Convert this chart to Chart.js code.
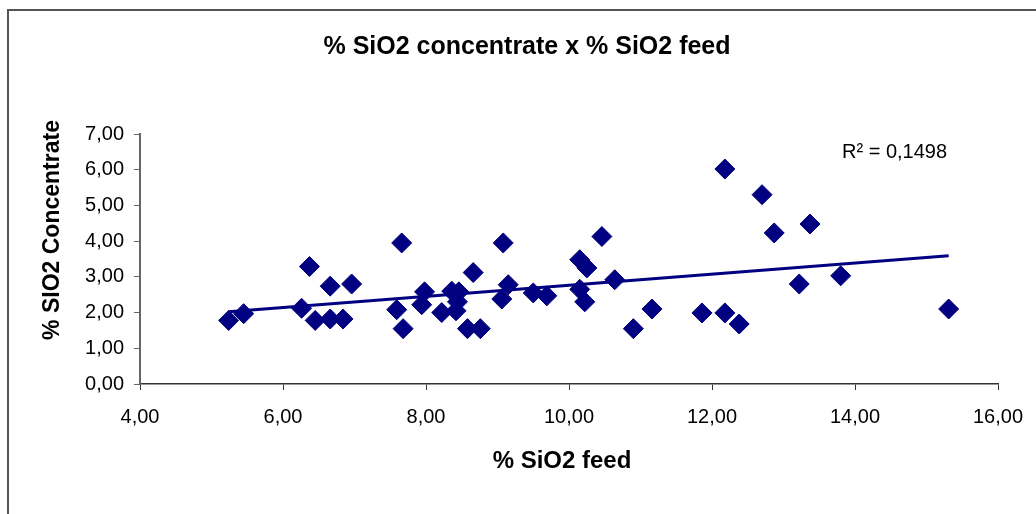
<!DOCTYPE html>
<html lang="en">
<head>
<meta charset="UTF-8">
<title>% SiO2 concentrate x % SiO2 feed</title>
<script src="https://cdn.jsdelivr.net/npm/chart.js"></script>
<style>
  html, body { margin: 0; padding: 0; background: #fff; }
</style>
</head>
<body>
<canvas id="sio2Chart" width="1036" height="514"></canvas>
<script>
// values
const feedSiO2 = [5.24, 5.45, 6.26, 6.37, 6.45, 6.66, 6.66, 6.84, 6.96, 7.59,
                  7.66, 7.68, 7.94, 7.98, 8.22, 8.36, 8.42, 8.46, 8.44, 8.58,
                  8.66, 8.76, 9.06, 9.08, 9.15, 9.50, 9.69, 10.15, 10.15, 10.22,
                  10.25, 10.46, 10.64, 10.90, 11.16, 11.86, 12.18, 12.18, 12.38, 12.70,
                  12.87, 13.22, 13.37, 13.80, 15.31];
const concSiO2 = [1.78, 1.97, 2.12, 3.29, 1.78, 2.74, 1.82, 1.82, 2.80, 2.08,
                  3.95, 1.55, 2.22, 2.58, 2.00, 2.60, 2.05, 2.58, 2.30, 1.55,
                  3.12, 1.55, 2.38, 3.95, 2.78, 2.55, 2.47, 2.65, 3.48, 2.30,
                  3.25, 4.13, 2.92, 1.55, 2.10, 1.99, 6.02, 1.99, 1.68, 5.30,
                  4.23, 2.80, 4.48, 3.03, 2.10];
const xTicks = [4, 6, 8, 10, 12, 14, 16];
const yTicks = [0, 1, 2, 3, 4, 5, 6, 7];
const chartTitle = '% SiO2 concentrate x % SiO2 feed';
const xTitle = '% SiO2 feed';
const yTitle = '% SIO2 Concentrate';
const r2Label = 'R\u00B2 = 0,1498';

// least squares trend line over the data range
const n = feedSiO2.length;
const mx = feedSiO2.reduce((a, b) => a + b, 0) / n;
const my = concSiO2.reduce((a, b) => a + b, 0) / n;
let sxy = 0, sxx = 0;
for (let i = 0; i < n; i++) {
    sxy += (feedSiO2[i] - mx) * (concSiO2[i] - my);
    sxx += (feedSiO2[i] - mx) ** 2;
}
const slope = sxy / sxx;
const icept = my - slope * mx;
const xMin = Math.min(...feedSiO2), xMax = Math.max(...feedSiO2);
const trend = [xMin, xMax].map(x => ({ x: x, y: icept + slope * x }));

const points = feedSiO2.map((x, i) => ({ x: x, y: concSiO2[i] }));
const fmt = v => v.toFixed(2).replace('.', ',');
const FONT = '"Liberation Sans", Arial, sans-serif';
const NAVY = '#000080';

// frame, titles and R² label
const chartText = {
    id: 'chartText',
    afterDraw(chart) {
        const ctx = chart.ctx;
        ctx.save();
        ctx.strokeStyle = '#555';
        ctx.lineWidth = 2;
        ctx.beginPath();
        ctx.moveTo(8, 514);
        ctx.lineTo(8, 10);
        ctx.lineTo(1036, 10);
        ctx.stroke();

        ctx.fillStyle = '#000';
        ctx.textAlign = 'center';
        ctx.textBaseline = 'middle';
        ctx.font = 'bold 25px ' + FONT;
        ctx.fillText(chartTitle, 527, 47);
        ctx.font = 'bold 24px ' + FONT;
        ctx.fillText(xTitle, 562, 461);

        ctx.font = '20px ' + FONT;
        ctx.textAlign = 'left';
        ctx.fillText(r2Label, 842, 152);

        ctx.font = 'bold 23px ' + FONT;
        ctx.textAlign = 'center';
        ctx.translate(53, 230);
        ctx.rotate(-Math.PI / 2);
        ctx.fillText(yTitle, 0, 0);
        ctx.restore();
    }
};

const ctx = document.getElementById('sio2Chart').getContext('2d');
const sio2Chart = new Chart(ctx, {
    type: 'scatter',
    data: {
        datasets: [{
            data: points,
            pointStyle: 'rectRot',
            pointRadius: 10,
            backgroundColor: NAVY,
            borderColor: NAVY,
            borderWidth: 1,
        }, {
            type: 'line',
            data: trend,
            borderColor: NAVY,
            borderWidth: 3,
            pointRadius: 0,
            fill: false,
        }],
    },
    options: {
        responsive: false,
        animation: false,
        layout: { padding: { top: 134, right: 38, bottom: 0, left: 0 } },
        plugins: {
            legend: { display: false },
            tooltip: { enabled: false },
            title: { display: false },
        },
        scales: {
            x: {
                type: 'linear',
                min: 4,
                max: 16,
                afterFit: s => { s.height = 130; s.paddingRight = 0; s.paddingLeft = 0; },
                afterBuildTicks: s => { s.ticks = xTicks.map(v => ({ value: v })); },
                border: { color: '#333', width: 1.5 },
                grid: { drawOnChartArea: false, drawTicks: true, tickLength: 6, color: '#333' },
                ticks: {
                    color: '#000',
                    padding: 15,
                    maxRotation: 0,
                    font: { family: FONT, size: 20 },
                    callback: v => fmt(v),
                },
            },
            y: {
                type: 'linear',
                min: 0,
                max: 7,
                afterFit: s => { s.width = 140; },
                afterBuildTicks: s => { s.ticks = yTicks.map(v => ({ value: v })); },
                border: { color: '#666', width: 2 },
                grid: { drawOnChartArea: false, drawTicks: true, tickLength: 6, color: '#666' },
                ticks: {
                    color: '#000',
                    padding: 10,
                    font: { family: FONT, size: 20 },
                    callback: v => fmt(v),
                },
            },
        },
    },
    plugins: [chartText],
});
</script>
</body>
</html>
